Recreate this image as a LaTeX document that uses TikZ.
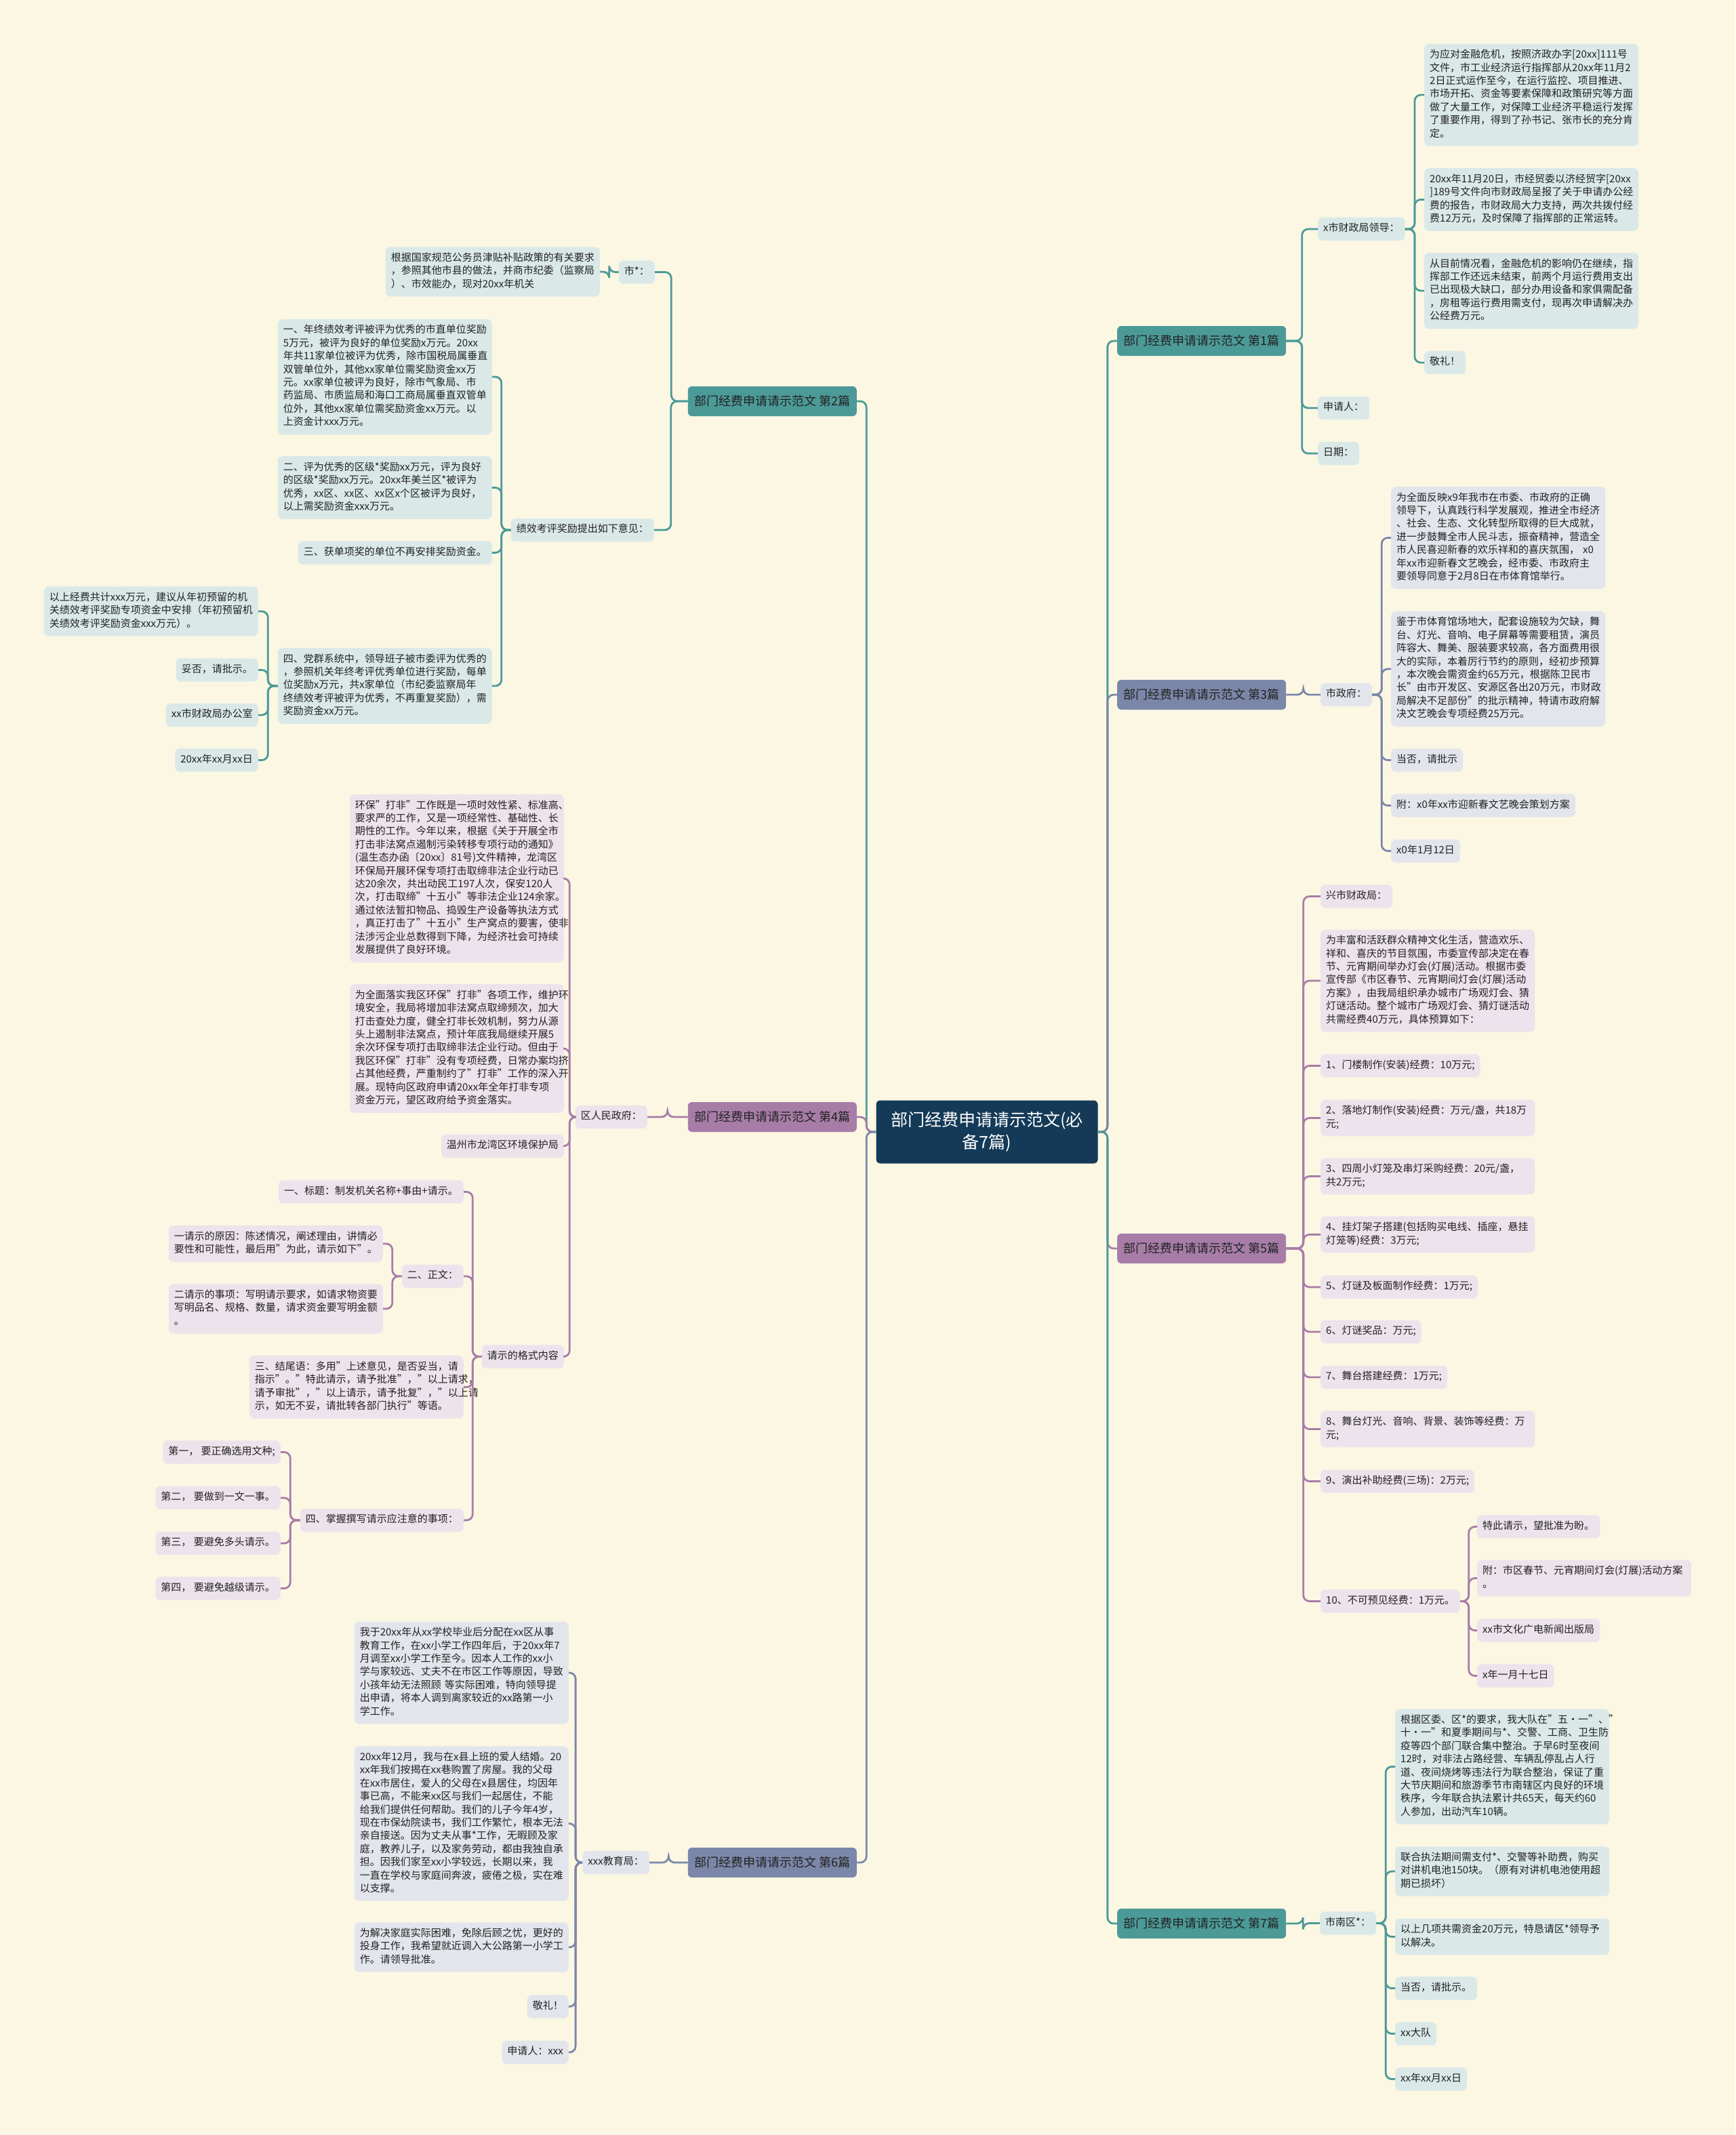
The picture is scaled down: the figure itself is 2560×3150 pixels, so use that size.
\documentclass[tikz,border=0pt]{standalone}
\usepackage{fontspec}
\setmainfont{Noto Sans CJK SC}
\usetikzlibrary{calc}

\definecolor{paper}{HTML}{FBF7E3}
\definecolor{navy}{HTML}{143A57}
\definecolor{ink}{HTML}{222222}
\definecolor{tealB}{HTML}{4C9A98}
\definecolor{tealL}{HTML}{DAE9E8}
\definecolor{slateB}{HTML}{7B87A8}
\definecolor{slateL}{HTML}{E3E5EC}
\definecolor{plumB}{HTML}{A77DA8}
\definecolor{plumL}{HTML}{EDE3EC}

% elbow links: parent -> child
\newcommand{\linkR}[3]{\draw[#1] (#2.east) -- ($(#2.east)!.5!(#2.east-|#3.west)$) |- (#3.west);}
\newcommand{\linkL}[3]{\draw[#1] (#2.west) -- ($(#2.west)!.5!(#2.west-|#3.east)$) |- (#3.east);}

\tikzset{
leaf/.style={
rounded corners=7pt,
inner xsep=8pt,
inner ysep=7.5pt,
minimum height=34.4pt,
text=ink,
font=\fontsize{15}{19.4}\selectfont,
execute at begin node=\strut,
execute at end node=\strut
},
wide/.style={text width=300pt, align=left},
tleaf/.style={leaf, fill=tealL},
sleaf/.style={leaf, fill=slateL},
pleaf/.style={leaf, fill=plumL},
branch/.style={
rounded corners=6pt,
inner xsep=9.5pt,
minimum height=44pt,
text=ink,
font=\fontsize{18}{22}\selectfont
},
hub/.style={
fill=navy,
rounded corners=6pt,
text=white,
text width=307pt,
inner xsep=10pt,
minimum height=93pt,
align=center,
font=\fontsize{25}{33}\selectfont
},
tlink/.style={draw=tealB, line width=2.8pt, rounded corners=9pt},
slink/.style={draw=slateB, line width=2.8pt, rounded corners=9pt},
plink/.style={draw=plumB, line width=2.8pt, rounded corners=9pt}
}

\begin{document}
\begin{tikzpicture}[x=1pt, y=-1pt]

\fill[paper] (0,0) rectangle (2560,3150);

\node[hub] (hub) at (1456,1670) {部门经费申请请示范文(必\\备7篇)};

% main branches
\node[branch, fill=tealB, anchor=west] (b1) at (1648,503) {部门经费申请请示范文 第1篇};
\node[branch, fill=slateB, anchor=west] (b3) at (1648,1025) {部门经费申请请示范文 第3篇};
\node[branch, fill=plumB, anchor=west] (b5) at (1648,1842) {部门经费申请请示范文 第5篇};
\node[branch, fill=tealB, anchor=west] (b7) at (1648,2838) {部门经费申请请示范文 第7篇};
\node[branch, fill=tealB, anchor=east] (b2) at (1264,592) {部门经费申请请示范文 第2篇};
\node[branch, fill=plumB, anchor=east] (b4) at (1264,1648) {部门经费申请请示范文 第4篇};
\node[branch, fill=slateB, anchor=east] (b6) at (1264,2748) {部门经费申请请示范文 第6篇};

% 第1篇
\node[tleaf, anchor=west] (b1a) at (1944,338) {x市财政局领导：};
\node[tleaf, anchor=west] (b1b) at (1944,602) {申请人：};
\node[tleaf, anchor=west] (b1c) at (1944,669) {日期：};
\node[tleaf, wide, anchor=west] (b1a1) at (2101,140) {为应对金融危机，按照济政办字[20xx]111号\\文件，市工业经济运行指挥部从20xx年11月2\\2日正式运作至今，在运行监控、项目推进、\\市场开拓、资金等要素保障和政策研究等方面\\做了大量工作，对保障工业经济平稳运行发挥\\了重要作用，得到了孙书记、张市长的充分肯\\定。};
\node[tleaf, wide, anchor=west] (b1a2) at (2101,294.5) {20xx年11月20日，市经贸委以济经贸字[20xx\\]189号文件向市财政局呈报了关于申请办公经\\费的报告，市财政局大力支持，两次共拨付经\\费12万元，及时保障了指挥部的正常运转。};
\node[tleaf, wide, anchor=west] (b1a3) at (2101,429) {从目前情况看，金融危机的影响仍在继续，指\\挥部工作还远未结束，前两个月运行费用支出\\已出现极大缺口，部分办用设备和家俱需配备\\，房租等运行费用需支付，现再次申请解决办\\公经费万元。};
\node[tleaf, anchor=west] (b1a4) at (2101,535) {敬礼！};

% 第3篇
\node[sleaf, anchor=west] (b3a) at (1948,1025) {市政府：};
\node[sleaf, wide, anchor=west] (b3a1) at (2052,793.5) {为全面反映x9年我市在市委、市政府的正确\\领导下，认真践行科学发展观，推进全市经济\\、社会、生态、文化转型所取得的巨大成就，\\进一步鼓舞全市人民斗志，振奋精神，营造全\\市人民喜迎新春的欢乐祥和的喜庆氛围， x0\\年xx市迎新春文艺晚会，经市委、市政府主\\要领导同意于2月8日在市体育馆举行。};
\node[sleaf, wide, anchor=west] (b3a2) at (2052,987) {鉴于市体育馆场地大，配套设施较为欠缺，舞\\台、灯光、音响、电子屏幕等需要租赁，演员\\阵容大、舞美、服装要求较高，各方面费用很\\大的实际，本着厉行节约的原则，经初步预算\\，本次晚会需资金约65万元，根据陈卫民市\\长"由市开发区、安源区各出20万元，市财政\\局解决不足部份"的批示精神，特请市政府解\\决文艺晚会专项经费25万元。};
\node[sleaf, anchor=west] (b3a3) at (2052,1121.5) {当否，请批示};
\node[sleaf, anchor=west] (b3a4) at (2052,1188.5) {附：x0年xx市迎新春文艺晚会策划方案};
\node[sleaf, anchor=west] (b3a5) at (2052,1255.5) {x0年1月12日};

% 第5篇
\node[pleaf, anchor=west] (b5a) at (1948,1322.5) {兴市财政局：};
\node[pleaf, wide, anchor=west] (b5b) at (1948,1447) {为丰富和活跃群众精神文化生活，营造欢乐、\\祥和、喜庆的节目氛围，市委宣传部决定在春\\节、元宵期间举办灯会(灯展)活动。根据市委\\宣传部《市区春节、元宵期间灯会(灯展)活动\\方案》，由我局组织承办城市广场观灯会、猜\\灯谜活动。整个城市广场观灯会、猜灯谜活动\\共需经费40万元，具体预算如下：};
\node[pleaf, anchor=west] (b5c) at (1948,1572.5) {1、门楼制作(安装)经费：10万元;};
\node[pleaf, wide, anchor=west] (b5d) at (1948,1649.5) {2、落地灯制作(安装)经费：万元/盏，共18万\\元;};
\node[pleaf, wide, anchor=west] (b5e) at (1948,1735.5) {3、四周小灯笼及串灯采购经费：20元/盏，\\共2万元;};
\node[pleaf, wide, anchor=west] (b5f) at (1948,1821.5) {4、挂灯架子搭建(包括购买电线、插座，悬挂\\灯笼等)经费：3万元;};
\node[pleaf, anchor=west] (b5g) at (1948,1899) {5、灯谜及板面制作经费：1万元;};
\node[pleaf, anchor=west] (b5h) at (1948,1965) {6、灯谜奖品：万元;};
\node[pleaf, anchor=west] (b5i) at (1948,2032) {7、舞台搭建经费：1万元;};
\node[pleaf, wide, anchor=west] (b5j) at (1948,2108.5) {8、舞台灯光、音响、背景、装饰等经费：万\\元;};
\node[pleaf, anchor=west] (b5k) at (1948,2185.5) {9、演出补助经费(三场)：2万元;};
\node[pleaf, anchor=west] (b5l) at (1948,2362.5) {10、不可预见经费：1万元。};
\node[pleaf, anchor=west] (b5l1) at (2179,2252.5) {特此请示，望批准为盼。};
\node[pleaf, wide, anchor=west] (b5l2) at (2179,2328.5) {附：市区春节、元宵期间灯会(灯展)活动方案\\。};
\node[pleaf, anchor=west] (b5l3) at (2179,2405.5) {xx市文化广电新闻出版局};
\node[pleaf, anchor=west] (b5l4) at (2179,2472.5) {x年一月十七日};

% 第7篇
\node[tleaf, anchor=west] (b7a) at (1947,2837.5) {市南区*：};
\node[tleaf, wide, anchor=west] (b7a1) at (2058,2606.5) {根据区委、区*的要求，我大队在"五·一"、"\\十·一"和夏季期间与*、交警、工商、卫生防\\疫等四个部门联合集中整治。于早6时至夜间\\12时，对非法占路经营、车辆乱停乱占人行\\道、夜间烧烤等违法行为联合整治，保证了重\\大节庆期间和旅游季节市南辖区内良好的环境\\秩序，今年联合执法累计共65天，每天约60\\人参加，出动汽车10辆。};
\node[tleaf, wide, anchor=west] (b7a2) at (2058,2761) {联合执法期间需支付*、交警等补助费，购买\\对讲机电池150块。（原有对讲机电池使用超\\期已损坏）};
\node[tleaf, wide, anchor=west] (b7a3) at (2058,2857.5) {以上几项共需资金20万元，特恳请区*领导予\\以解决。};
\node[tleaf, anchor=west] (b7a4) at (2058,2933.5) {当否，请批示。};
\node[tleaf, anchor=west] (b7a5) at (2058,3000.5) {xx大队};
\node[tleaf, anchor=west] (b7a6) at (2058,3067.5) {xx年xx月xx日};

% 第2篇
\node[tleaf, anchor=east] (b2a) at (966,401.5) {市*：};
\node[tleaf, wide, anchor=east] (b2a1) at (885,401) {根据国家规范公务员津贴补贴政策的有关要求\\，参照其他市县的做法，并商市纪委（监察局\\）、市效能办，现对20xx年机关};
\node[tleaf, anchor=east] (b2b) at (965,782) {绩效考评奖励提出如下意见：};
\node[tleaf, wide, anchor=east] (b2b1) at (726,556) {一、年终绩效考评被评为优秀的市直单位奖励\\5万元，被评为良好的单位奖励x万元。20xx\\年共11家单位被评为优秀，除市国税局属垂直\\双管单位外，其他xx家单位需奖励资金xx万\\元。xx家单位被评为良好，除市气象局、市\\药监局、市质监局和海口工商局属垂直双管单\\位外，其他xx家单位需奖励资金xx万元。以\\上资金计xxx万元。};
\node[tleaf, wide, anchor=east] (b2b2) at (726,719.5) {二、评为优秀的区级*奖励xx万元，评为良好\\的区级*奖励xx万元。20xx年美兰区*被评为\\优秀，xx区、xx区、xx区x个区被评为良好，\\以上需奖励资金xxx万元。};
\node[tleaf, anchor=east] (b2b3) at (726,815.5) {三、获单项奖的单位不再安排奖励资金。};
\node[tleaf, wide, anchor=east] (b2b4) at (726,1012) {四、党群系统中，领导班子被市委评为优秀的\\，参照机关年终考评优秀单位进行奖励，每单\\位奖励x万元，共x家单位（市纪委监察局年\\终绩效考评被评为优秀，不再重复奖励），需\\奖励资金xx万元。};
\node[tleaf, wide, anchor=east] (b2c1) at (381,902) {以上经费共计xxx万元，建议从年初预留的机\\关绩效考评奖励专项资金中安排（年初预留机\\关绩效考评奖励资金xxx万元）。};
\node[tleaf, anchor=east] (b2c2) at (381,988.5) {妥否，请批示。};
\node[tleaf, anchor=east] (b2c3) at (381,1055) {xx市财政局办公室};
\node[tleaf, anchor=east] (b2c4) at (381,1121.5) {20xx年xx月xx日};

% 第4篇
\node[pleaf, anchor=east] (b4a) at (955,1648) {区人民政府：};
\node[pleaf, wide, anchor=east] (b4a1) at (832,1296) {环保"打非"工作既是一项时效性紧、标准高、\\要求严的工作，又是一项经常性、基础性、长\\期性的工作。今年以来，根据《关于开展全市\\打击非法窝点遏制污染转移专项行动的通知》\\(温生态办函〔20xx〕81号)文件精神，龙湾区\\环保局开展环保专项打击取缔非法企业行动已\\达20余次，共出动民工197人次，保安120人\\次，打击取缔"十五小"等非法企业124余家。\\通过依法暂扣物品、捣毁生产设备等执法方式\\，真正打击了"十五小"生产窝点的要害，使非\\法涉污企业总数得到下降，为经济社会可持续\\发展提供了良好环境。};
\node[pleaf, wide, anchor=east] (b4a2) at (832,1547) {为全面落实我区环保"打非"各项工作，维护环\\境安全，我局将增加非法窝点取缔频次，加大\\打击查处力度，健全打非长效机制，努力从源\\头上遏制非法窝点，预计年底我局继续开展5\\余次环保专项打击取缔非法企业行动。但由于\\我区环保"打非"没有专项经费，日常办案均挤\\占其他经费，严重制约了"打非"工作的深入开\\展。现特向区政府申请20xx年全年打非专项\\资金万元，望区政府给予资金落实。};
\node[pleaf, anchor=east] (b4a3) at (832,1691) {温州市龙湾区环境保护局};
\node[pleaf, anchor=east] (b4a4) at (832,2001.5) {请示的格式内容};
\node[pleaf, anchor=east] (b4b1) at (684,1758.5) {一、标题：制发机关名称+事由+请示。};
\node[pleaf, anchor=east] (b4b2) at (684,1883) {二、正文：};
\node[pleaf, wide, anchor=east] (b4b3) at (684,2046.5) {三、结尾语：多用"上述意见，是否妥当，请\\指示"。"特此请示，请予批准"，"以上请求，\\请予审批"，"以上请示，请予批复"，"以上请\\示，如无不妥，请批转各部门执行"等语。};
\node[pleaf, anchor=east] (b4b4) at (684,2243) {四、掌握撰写请示应注意的事项：};
\node[pleaf, wide, anchor=east] (b4c1) at (565,1835) {一请示的原因：陈述情况，阐述理由，讲情必\\要性和可能性，最后用"为此，请示如下"。};
\node[pleaf, wide, anchor=east] (b4c2) at (565,1931) {二请示的事项：写明请示要求，如请求物资要\\写明品名、规格、数量，请求资金要写明金额\\。};
\node[pleaf, anchor=east] (b4d1) at (414,2142.5) {第一， 要正确选用文种;};
\node[pleaf, anchor=east] (b4d2) at (414,2210) {第二， 要做到一文一事。};
\node[pleaf, anchor=east] (b4d3) at (414,2277) {第三， 要避免多头请示。};
\node[pleaf, anchor=east] (b4d4) at (414,2343.5) {第四， 要避免越级请示。};

% 第6篇
\node[sleaf, anchor=east] (b6a) at (958,2748) {xxx教育局：};
\node[sleaf, wide, anchor=east] (b6a1) at (839,2468) {我于20xx年从xx学校毕业后分配在xx区从事\\教育工作，在xx小学工作四年后，于20xx年7\\月调至xx小学工作至今。因本人工作的xx小\\学与家较远、丈夫不在市区工作等原因，导致\\小孩年幼无法照顾 等实际困难，特向领导提\\出申请，将本人调到离家较近的xx路第一小\\学工作。};
\node[sleaf, wide, anchor=east] (b6a2) at (839,2690.5) {20xx年12月，我与在x县上班的爱人结婚。20\\xx年我们按揭在xx巷购置了房屋。我的父母\\在xx市居住，爱人的父母在x县居住，均因年\\事已高，不能来xx区与我们一起居住，不能\\给我们提供任何帮助。我们的儿子今年4岁，\\现在市保幼院读书，我们工作繁忙，根本无法\\亲自接送。因为丈夫从事*工作，无暇顾及家\\庭，教养儿子，以及家务劳动，都由我独自承\\担。因我们家至xx小学较远，长期以来，我\\一直在学校与家庭间奔波，疲倦之极，实在难\\以支撑。};
\node[sleaf, wide, anchor=east] (b6a3) at (839,2873) {为解决家庭实际困难，免除后顾之忧，更好的\\投身工作，我希望就近调入大公路第一小学工\\作。请领导批准。};
\node[sleaf, anchor=east] (b6a4) at (839,2960.5) {敬礼！};
\node[sleaf, anchor=east] (b6a5) at (839,3028) {申请人：xxx};

% links
\linkR{tlink}{hub}{b1}
\linkR{slink}{hub}{b3}
\linkR{plink}{hub}{b5}
\linkR{tlink}{hub}{b7}
\linkL{tlink}{hub}{b2}
\linkL{plink}{hub}{b4}
\linkL{slink}{hub}{b6}

\foreach \c in {b1a,b1b,b1c} {\linkR{tlink}{b1}{\c}}
\foreach \c in {b1a1,b1a2,b1a3,b1a4} {\linkR{tlink}{b1a}{\c}}
\linkR{slink}{b3}{b3a}
\foreach \c in {b3a1,b3a2,b3a3,b3a4,b3a5} {\linkR{slink}{b3a}{\c}}
\foreach \c in {b5a,b5b,b5c,b5d,b5e,b5f,b5g,b5h,b5i,b5j,b5k,b5l} {\linkR{plink}{b5}{\c}}
\foreach \c in {b5l1,b5l2,b5l3,b5l4} {\linkR{plink}{b5l}{\c}}
\linkR{tlink}{b7}{b7a}
\foreach \c in {b7a1,b7a2,b7a3,b7a4,b7a5,b7a6} {\linkR{tlink}{b7a}{\c}}

\foreach \c in {b2a,b2b} {\linkL{tlink}{b2}{\c}}
\linkL{tlink}{b2a}{b2a1}
\foreach \c in {b2b1,b2b2,b2b3,b2b4} {\linkL{tlink}{b2b}{\c}}
\foreach \c in {b2c1,b2c2,b2c3,b2c4} {\linkL{tlink}{b2b4}{\c}}
\linkL{plink}{b4}{b4a}
\foreach \c in {b4a1,b4a2,b4a3,b4a4} {\linkL{plink}{b4a}{\c}}
\foreach \c in {b4b1,b4b2,b4b3,b4b4} {\linkL{plink}{b4a4}{\c}}
\foreach \c in {b4c1,b4c2} {\linkL{plink}{b4b2}{\c}}
\foreach \c in {b4d1,b4d2,b4d3,b4d4} {\linkL{plink}{b4b4}{\c}}
\linkL{slink}{b6}{b6a}
\foreach \c in {b6a1,b6a2,b6a3,b6a4,b6a5} {\linkL{slink}{b6a}{\c}}

\end{tikzpicture}
\end{document}
